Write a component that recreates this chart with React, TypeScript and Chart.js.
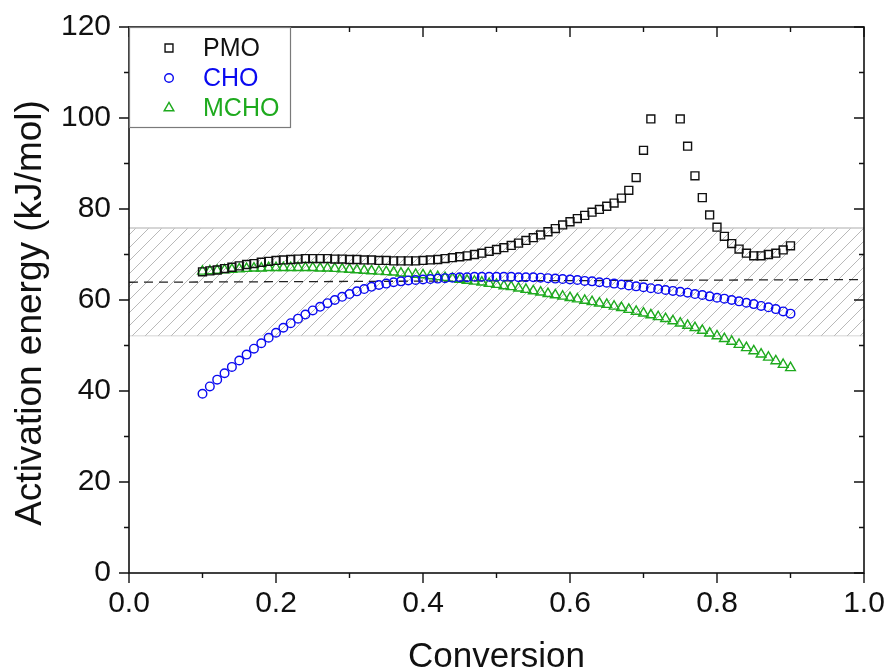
import React, { useEffect, useRef } from "react";
import { Chart, registerables } from "chart.js";

Chart.register(...registerables);

const conversion = [
  0.10, 0.11, 0.12, 0.13, 0.14, 0.15, 0.16, 0.17, 0.18, 0.19,
  0.20, 0.21, 0.22, 0.23, 0.24, 0.25, 0.26, 0.27, 0.28, 0.29,
  0.30, 0.31, 0.32, 0.33, 0.34, 0.35, 0.36, 0.37, 0.38, 0.39,
  0.40, 0.41, 0.42, 0.43, 0.44, 0.45, 0.46, 0.47, 0.48, 0.49,
  0.50, 0.51, 0.52, 0.53, 0.54, 0.55, 0.56, 0.57, 0.58, 0.59,
  0.60, 0.61, 0.62, 0.63, 0.64, 0.65, 0.66, 0.67, 0.68, 0.69,
  0.70, 0.71, 0.72, 0.73, 0.74, 0.75, 0.76, 0.77, 0.78, 0.79,
  0.80, 0.81, 0.82, 0.83, 0.84, 0.85, 0.86, 0.87, 0.88, 0.89,
  0.90,
];

const pmoEnergy: (number | null)[] = [
  66.2, 66.4, 66.6, 66.9, 67.2, 67.5, 67.8, 68.0, 68.3, 68.5,
  68.7, 68.8, 68.9, 69.0, 69.1, 69.1, 69.1, 69.1, 69.0, 69.0,
  68.9, 68.9, 68.8, 68.8, 68.7, 68.7, 68.6, 68.6, 68.6, 68.6,
  68.7, 68.8, 68.9, 69.1, 69.3, 69.5, 69.7, 70.0, 70.3, 70.7,
  71.1, 71.5, 72.0, 72.5, 73.1, 73.7, 74.3, 75.0, 75.7, 76.5,
  77.2, 77.9, 78.6, 79.3, 79.9, 80.6, 81.3, 82.4, 84.1, 86.9,
  92.9, 99.8, null, null, null, 99.8, 93.8, 87.3, 82.5, 78.7,
  76.0, 74.0, 72.4, 71.2, 70.3, 69.7, 69.7, 70.0, 70.3, 71.0,
  71.9,
];

const choEnergy = [
  39.4, 41.0, 42.5, 43.9, 45.3, 46.7, 48.0, 49.3, 50.5, 51.7,
  52.8, 53.9, 54.9, 55.9, 56.8, 57.7, 58.5, 59.3, 60.0, 60.7,
  61.3, 61.9, 62.4, 62.9, 63.3, 63.6, 63.9, 64.1, 64.3, 64.4,
  64.5, 64.6, 64.7, 64.8, 64.9, 65.0, 65.0, 65.1, 65.1, 65.1,
  65.1, 65.1, 65.1, 65.0, 65.0, 65.0, 64.9, 64.8, 64.7, 64.6,
  64.5, 64.4, 64.2, 64.1, 63.9, 63.8, 63.6, 63.4, 63.2, 63.0,
  62.8, 62.6, 62.4, 62.2, 62.0, 61.8, 61.6, 61.3, 61.1, 60.8,
  60.5, 60.3, 60.0, 59.7, 59.4, 59.1, 58.7, 58.4, 58.0, 57.5,
  57.0,
];

const mchoEnergy = [
  66.3, 66.4, 66.5, 66.6, 66.7, 66.8, 66.9, 67.0, 67.0, 67.1,
  67.1, 67.1, 67.1, 67.1, 67.1, 67.1, 67.0, 67.0, 66.9, 66.8,
  66.7, 66.6, 66.5, 66.4, 66.3, 66.2, 66.1, 65.9, 65.8, 65.6,
  65.5, 65.3, 65.1, 64.9, 64.7, 64.5, 64.3, 64.1, 63.9, 63.6,
  63.4, 63.1, 62.9, 62.6, 62.3, 62.0, 61.7, 61.4, 61.1, 60.8,
  60.5, 60.2, 59.9, 59.6, 59.3, 59.0, 58.6, 58.3, 57.9, 57.5,
  57.1, 56.7, 56.3, 55.9, 55.4, 54.9, 54.4, 53.9, 53.3, 52.7,
  52.1, 51.5, 50.9, 50.2, 49.5, 48.8, 48.1, 47.4, 46.6, 45.8,
  45.1,
];

const bandUpper = 75.8;
const bandLower = 52.2;
const bandX = [0, 1];
const meanLineX = [0, 1];
const meanLineY = [63.9, 64.5];

const xMajorTicks = [0, 0.2, 0.4, 0.6, 0.8, 1.0];
const xMinorTicks = [0.1, 0.3, 0.5, 0.7, 0.9];
const yMajorTicks = [0, 20, 40, 60, 80, 100, 120];
const yMinorTicks = [10, 30, 50, 70, 90, 110];

const seriesNames = ["PMO", "CHO", "MCHO"];
const seriesColors = ["#111111", "#0a0af0", "#1eaa1e"];
const seriesStyles = ["rect", "circle", "triangle"];
const xTitle = "Conversion";
const yTitle = "Activation energy (kJ/mol)";

const FONT = "'Liberation Sans', Arial, Helvetica, sans-serif";

function makeHatch(): CanvasPattern | string {
  const s = 13;
  const c = document.createElement("canvas");
  c.width = s;
  c.height = s;
  const g = c.getContext("2d");
  if (!g) return "#eeeeee";
  g.fillStyle = "#ffffff";
  g.fillRect(0, 0, s, s);
  g.strokeStyle = "#b9b9b9";
  g.lineWidth = 1;
  g.beginPath();
  g.moveTo(-1, s + 1);
  g.lineTo(s + 1, -1);
  g.moveTo(-1, 1);
  g.lineTo(1, -1);
  g.moveTo(s - 1, s + 1);
  g.lineTo(s + 1, s - 1);
  g.stroke();
  return g.createPattern(c, "repeat") || "#eeeeee";
}

function drawMarker(ctx: CanvasRenderingContext2D, style: string, x: number, y: number, r: number) {
  ctx.beginPath();
  if (style === "rect") {
    const h = r * Math.SQRT1_2;
    ctx.rect(x - h, y - h, 2 * h, 2 * h);
  } else if (style === "circle") {
    ctx.arc(x, y, r, 0, Math.PI * 2);
  } else {
    ctx.moveTo(x, y - r);
    ctx.lineTo(x + r * Math.sin(Math.PI / 3), y + r * 0.5);
    ctx.lineTo(x - r * Math.sin(Math.PI / 3), y + r * 0.5);
    ctx.closePath();
  }
  ctx.stroke();
}

const decorPlugin = {
  id: "decor",
  afterDraw(chart: any) {
    const { ctx, chartArea: a, scales } = chart;
    const xs = scales.x;
    const ys = scales.y;
    ctx.save();
    // frame
    ctx.strokeStyle = "#111111";
    ctx.lineWidth = 1.6;
    ctx.strokeRect(a.left, a.top, a.right - a.left, a.bottom - a.top);
    // ticks
    ctx.lineWidth = 1.4;
    ctx.beginPath();
    const major = 10;
    const minor = 5;
    xMajorTicks.forEach((v) => {
      const p = xs.getPixelForValue(v);
      ctx.moveTo(p, a.bottom);
      ctx.lineTo(p, a.bottom + major);
      ctx.moveTo(p, a.top);
      ctx.lineTo(p, a.top + major);
    });
    xMinorTicks.forEach((v) => {
      const p = xs.getPixelForValue(v);
      ctx.moveTo(p, a.bottom);
      ctx.lineTo(p, a.bottom + minor);
      ctx.moveTo(p, a.top);
      ctx.lineTo(p, a.top + minor);
    });
    yMajorTicks.forEach((v) => {
      const p = ys.getPixelForValue(v);
      ctx.moveTo(a.left, p);
      ctx.lineTo(a.left - major, p);
      ctx.moveTo(a.right, p);
      ctx.lineTo(a.right - major, p);
    });
    yMinorTicks.forEach((v) => {
      const p = ys.getPixelForValue(v);
      ctx.moveTo(a.left, p);
      ctx.lineTo(a.left - minor, p);
      ctx.moveTo(a.right, p);
      ctx.lineTo(a.right - minor, p);
    });
    ctx.stroke();

    // legend box
    const lx = a.left;
    const ly = a.top;
    ctx.fillStyle = "#ffffff";
    ctx.fillRect(lx + 1, ly + 1, 160, 99);
    ctx.strokeStyle = "#7a7a7a";
    ctx.lineWidth = 1.2;
    ctx.strokeRect(lx + 0.5, ly + 0.5, 161, 100);
    ctx.font = `25px ${FONT}`;
    ctx.textAlign = "left";
    ctx.textBaseline = "middle";
    const rowY = [21, 51, 81];
    const radii = [5.6, 4.3, 5.6];
    seriesNames.forEach((name, i) => {
      ctx.strokeStyle = seriesColors[i];
      ctx.lineWidth = 1.4;
      drawMarker(ctx, seriesStyles[i], lx + 40, ly + rowY[i], radii[i]);
      ctx.fillStyle = seriesColors[i];
      ctx.fillText(name, lx + 74, ly + rowY[i] + 1);
    });

    // y title
    ctx.translate(31, 313);
    ctx.rotate(-Math.PI / 2);
    ctx.font = `37px ${FONT}`;
    ctx.fillStyle = "#111111";
    ctx.textAlign = "center";
    ctx.textBaseline = "middle";
    ctx.fillText(yTitle, 0, 0);
    ctx.restore();
  },
};

export default function App() {
  const ref = useRef<HTMLCanvasElement | null>(null);

  useEffect(() => {
    const canvas = ref.current;
    if (!canvas) return;
    const hatch = makeHatch();
    const pts = (ys: (number | null)[]) =>
      conversion
        .map((x, i) => ({ x, y: ys[i] }))
        .filter((p) => p.y !== null) as { x: number; y: number }[];

    const chart = new Chart(canvas, {
      type: "scatter",
      data: {
        datasets: [
          {
            label: "PMO",
            data: pts(pmoEnergy),
            pointStyle: "rect",
            pointRadius: 5.6,
            pointBorderWidth: 1.4,
            borderColor: seriesColors[0],
            backgroundColor: "rgba(0,0,0,0)",
            showLine: false,
            order: 0,
          },
          {
            label: "CHO",
            data: pts(choEnergy),
            pointStyle: "circle",
            pointRadius: 4.3,
            pointBorderWidth: 1.4,
            borderColor: seriesColors[1],
            backgroundColor: "rgba(0,0,0,0)",
            showLine: false,
            order: 1,
          },
          {
            label: "MCHO",
            data: pts(mchoEnergy),
            pointStyle: "triangle",
            pointRadius: 5.6,
            pointBorderWidth: 1.4,
            borderColor: seriesColors[2],
            backgroundColor: "rgba(0,0,0,0)",
            showLine: false,
            order: 2,
          },
          {
            label: "mean",
            data: meanLineX.map((x, i) => ({ x, y: meanLineY[i] })),
            showLine: true,
            pointRadius: 0,
            borderColor: "#222222",
            borderWidth: 1.3,
            borderDash: [9, 6],
            fill: false,
            order: 5,
          },
          {
            label: "bandUpper",
            data: bandX.map((x) => ({ x, y: bandUpper })),
            showLine: true,
            pointRadius: 0,
            borderColor: "#c8c8c8",
            borderWidth: 1.5,
            backgroundColor: hatch as any,
            fill: "+1",
            order: 10,
          },
          {
            label: "bandLower",
            data: bandX.map((x) => ({ x, y: bandLower })),
            showLine: true,
            pointRadius: 0,
            borderColor: "#c8c8c8",
            borderWidth: 1.5,
            fill: false,
            order: 11,
          },
        ],
      },
      options: {
        responsive: false,
        animation: false,
        layout: { padding: { top: 27, right: 21, left: 0, bottom: 0 } },
        plugins: {
          legend: { display: false },
          tooltip: { enabled: false },
        },
        scales: {
          x: {
            type: "linear",
            min: 0,
            max: 1,
            grid: { display: false, drawTicks: false },
            border: { display: false },
            ticks: {
              stepSize: 0.2,
              padding: 13,
              color: "#111111",
              font: { size: 30, family: FONT },
              maxRotation: 0,
              callback: (v: any) => Number(v).toFixed(1),
            },
            title: {
              display: true,
              text: xTitle,
              color: "#111111",
              font: { size: 35, family: FONT, lineHeight: 0.8 },
              padding: { top: 0, bottom: 1 },
            },
            afterFit: (s: any) => {
              s.height = 99;
              s.paddingLeft = 0;
              s.paddingRight = 0;
            },
          },
          y: {
            type: "linear",
            min: 0,
            max: 120,
            grid: { display: false, drawTicks: false },
            border: { display: false },
            ticks: {
              stepSize: 20,
              padding: 18,
              color: "#111111",
              font: { size: 30, family: FONT },
            },
            afterFit: (s: any) => {
              s.width = 129;
              s.paddingTop = 0;
              s.paddingBottom = 0;
            },
          },
        },
      },
      plugins: [decorPlugin],
    });
    return () => chart.destroy();
  }, []);

  return (
    <div
      style={{
        position: "fixed",
        left: 0,
        top: 0,
        width: 885,
        height: 672,
        background: "#ffffff",
      }}
    >
      <canvas ref={ref} width={885} height={672} />
    </div>
  );
}
